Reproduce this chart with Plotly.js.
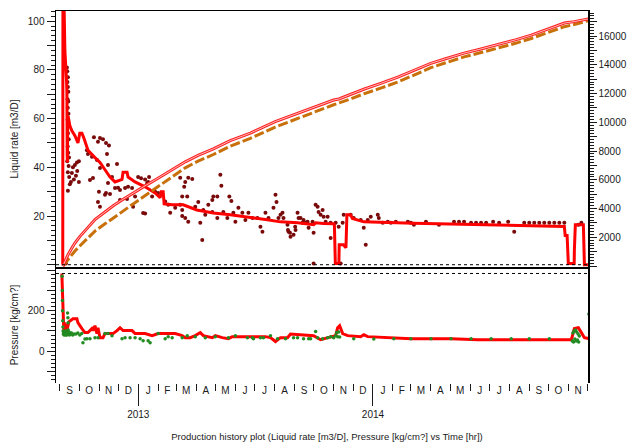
<!DOCTYPE html>
<html><head><meta charset="utf-8">
<script src="https://cdn.plot.ly/plotly-3.0.1.min.js"></script>
<style>html,body{margin:0;padding:0;background:#fff}#chart{width:630px;height:446px}</style>
</head><body><div id="chart"></div>
<script>
// ---- time origin (days are counted from this date) ----
const startDate = Date.UTC(2012, 8, 1);
const xRange = ['2012-08-26 00:00', '2014-12-01 12:00'];

// ---- tick labels ----
const monthLetters = ['S','O','N','D','J','F','M','A','M','J','J','A','S','O','N','D','J','F','M','A','M','J','J','A','S','O','N'];
const yearLabels = ['2013', '2014'];
const yearTicks = ['2013-01-01', '2014-01-01'];
const rateTicks = [0,10,20,30,40,50,60,70,80,90,100];
const rateTickText = ['','','20','','40','','60','','80','','100'];
const cumTicks = [0,1000,2000,3000,4000,5000,6000,7000,8000,9000,10000,11000,12000,13000,14000,15000,16000,17000];
const cumTickText = ['','','2000','','4000','','6000','','8000','','10000','','12000','','14000','','16000',''];
const presTicks = [-100,0,100,200,300,400];
const presTickText = ['','0','','200','',''];

// ---- simulated liquid rate (red line) ----
const rateSimDays = [4.5,4.8,6.2,7.8,10.5,11,11.4,11.8,12.2,12.9,15.6,18.7,23.4,28.1,31,34.3,37.4,43.7,54.6,62.4,70.2,78,85.8,96.7,98.3,104.5,106.1,117,132.6,148.2,156,157.6,160.7,162.2,174.7,191.9,213,238.7,265,291.7,320,343.2,370,394.7,397.8,410,425.9,427,428.5,434,434.5,441,445,446.5,452,455,472.7,550,650,750,784.7,786,789,790.9,800,800.3,801.8,814.3,815,815.9,823.7];
const rateSimValues = [0,112,112,88,75,70,45,42,60,61,57,55,53,50,54,54,52,47,44,42,39,36,34,35,38,38,36,34,32,29.5,27.5,30,30,25,24.6,24.6,22.5,21.2,20.5,19.7,18.6,17.6,17.2,16.4,17.2,16.9,16.8,16.4,0.5,0.5,8.2,8.2,7,20.5,20.5,19,17.6,17,16.5,16,15.7,12,12,0.5,0.5,6,16.4,16.4,5,0,0];

// ---- measured liquid rate (dark red dots) ----
const rateObsDays = [9.4,10.9,11.5,12.5,11.8,12.5,13.2,12,13,12.3,13.4,12,13.2,12.6,13.8,12.2,13,14.2,11.5,13.6,12.4,14.5,15.5,12.5,
 18.7,25,29.6,17.2,26.5,29.6,20.3,23.4,27,21.8,
 53,62.4,67.1,71.8,76.4,59.3,42.1,43.7,49.9,57.7,73.3,74.9,88.9,62.4,51.5,46.8,74.9,81.1,85.8,93.6,60.8,71.8,59.3,62.4,78,101.4,106.1,112.3,117,104.5,113.9,129.5,135.7,138.8,143.5,148.2,
 121.7,126.4,132.6,137.3,90.5,70.2,93.6,132.6,152.9,163.8,168.5,171.6,179.4,187.2,190.3,187.2,193.4,
 195,199.7,205.9,190.3,198.1,190.3,195,199.7,210.6,215.3,223.1,226.2,218.4,221.5,230.9,237.1,238.7,244.9,237.1,244.9,249.6,251.2,254.3,260.5,263.6,266.8,269.9,273,277.7,283.9,288.6,293.3,299.5,307.3,312,315.1,319.8,324.5,332.3,335.4,337,340.1,343.2,346.3,347.9,354.1,355.7,358.8,363.5,366.6,369.7,371.3,377.5,382.2,386.9,393.1,397.8,400.9,
 354.8,358,366,374.4,379.1,385.3,402.5,405.6,408.7,410.3,413.4,416.5,421.2,394.7,394.7,421.2,429,433.7,436.8,439.9,441.5,452.4,457.1,468,472.7,475.8,478.9,483.6,494.5,496.1,502.3,510.1,514.8,522.6,541.3,546,550.7,569.4,589.7,613.1,620.9,628.7,639.6,647.4,655.2,663,673.9,683.3,697.3,706.7,722.3,730.1,737.9,745.7,753.5,761.3,769.1,776.9,784.7,806.5,811.2];
const rateObsValues = [0.5,81,79.5,77,75,73,71,68,67,64.5,62,59.5,57,54,51.5,48.5,46,44,42.5,40.5,38,36,33,30.4,
 37.7,36.5,34,34,42,42.5,40,41,38.5,35,
 52.4,52,51.5,50,49,50.5,47,45.5,44.3,43,45.5,41,41.4,39.7,35.6,34.8,33.6,36,31.5,30.7,30,29.5,25.8,23.8,29,31.5,32,31.5,28,27,23.8,21.2,33.6,36,28,30,
 36,35.5,35,34,31.6,28.7,26.6,21,29.5,26,24.6,21.3,23.4,24.6,20,35.7,32,
 34,35.7,35.2,28,28,22.5,19.2,17.6,23.8,25.8,22.5,20.5,17.2,10.2,24.6,26.6,28,28,21.7,19.2,36.9,32.4,21.7,19.2,28,26.2,21.3,17.6,23.4,21.3,18.4,21.3,19.2,19.2,15.6,13.5,21.3,19.2,23.4,28.7,25.8,19.2,20.5,21.3,19.2,16.4,13.5,11.5,12.3,14.3,21.3,19.2,17.2,17.2,15.2,17.6,24.6,23.8,
 14.3,13.1,15.6,19.2,18.4,17.6,21.7,20.5,22.5,19.7,17.6,19.7,17.2,13.1,0.5,11,17.2,15.6,0.5,17.2,20.5,20.5,19.2,18.4,15.2,8.2,18.4,19.7,20.5,19.2,17.2,17.6,17.2,17.6,17.6,17.2,16.4,17.6,16.4,17.6,17.6,17.6,17.2,17.2,17.2,17.2,17.6,17.2,17.6,13.5,17.2,17.2,17.2,17.2,17.2,17.2,17.2,17.2,17.2,16.4,17.2];

// ---- cumulative production (right axis) ----
const cumSimDays = [4.7,8,12.5,18,23.4,31,43.7,55,70.2,83,96.7,110,121.7,135,148.2,162,174.7,195,215,238.7,265,296.4,335,374.4,400,425.9,434,452.4,472.7,500,525.7,550,577,600,628.7,655,681.7,710,733.2,760,784.7,800,815.9,823];
const cumSimValues = [0,350,770,1200,1600,2050,2720,3250,3760,4200,4600,4980,5290,5650,5990,6350,6680,7250,7700,8150,8720,9250,10050,10700,11150,11550,11620,11950,12300,12720,13140,13600,14100,14420,14810,15100,15390,15750,16060,16480,16900,17000,17110,17200];
const cumObsDays = [4.7,8,12.5,18,23.4,31,43.7,55,70.2,83,96.7,110,121.7,135,148.2,162,174.7,195,215,238.7,265,296.4,335,374.4,400,425.9,452.4,472.7,500,525.7,550,577,600,628.7,655,681.7,710,733.2,760,784.7,800,815.9,823];
const cumObsValues = [0,200,470,750,1050,1400,1970,2450,2940,3370,3770,4200,4570,5000,5410,5830,6210,6830,7300,7760,8340,8880,9670,10340,10800,11220,11630,11980,12390,12800,13270,13800,14140,14550,14850,15150,15510,15830,16250,16650,16800,16960,17080];

// ---- pressure ----
const initialPressure = 384;
const presSimDays = [3.1,4,4.7,5.5,6.2,7.8,10.9,14,15.6,20.3,26.5,28.1,34.3,39,43.7,49.9,51.5,54.6,57.7,59.3,62.4,67.1,70.2,74.9,82.7,88.9,93.6,98.3,112.3,117,127.9,132.6,143.5,152.9,168.5,179.4,190.3,195,202.8,210.6,218.4,223.1,237.1,241.8,252.7,262.1,268.3,283.9,304.2,319.8,327.6,335.4,343.2,354.1,358.8,369.7,394.7,405.6,421.2,429,432.1,435.2,439.9,447.7,468,472.7,478.9,503.9,546,608.4,650.5,750,795.6,800.3,806.5,811.2,815.9,823.7];
const presSimValues = [384,300,180,95,92,141,102,145,150,160,160,141,112,92,92,112,102,126,87,116,67,67,87,87,87,102,116,102,102,87,87,87,77,87,87,87,77,67,67,77,92,77,67,77,67,62,72,72,72,72,67,48,67,67,85,82,77,57,72,77,116,126,87,77,72,82,72,67,62,62,57,57,57,112,116,92,67,62];
const presObsDays = [3.5,3.8,4,4.2,4.5,4.8,5,5.5,6,6.5,7,7.5,8,8.5,9,9.5,10,10.5,11,11.5,12,12.5,12.8,13,13.5,14,15,16,17,18,20,22,25,28,31,34,
 35.9,39,42.1,46.8,54.6,59.3,70.2,74.9,81.1,96.7,101.4,109.2,117,124.8,129.5,137.3,140.4,152.9,163.8,168.5,174.7,190.3,198.1,210.6,226.2,241.8,262.1,273,291.7,299.5,301.1,312,316.7,327.6,338.5,351,363.5,369.7,379.1,386.9,390,397.8,400.9,408.7,416.5,421.2,425.9,429,430.6,432.1,433.7,435.2,
 457.1,488.3,519.5,546,577.2,608.4,639.6,670.8,702,730.1,761.3,
 797,798,799,800,801,802,803,804,805,806,807,808,823];
const presObsValues = [370,300,250,200,150,120,100,85,90,80,95,85,100,90,80,95,85,100,80,90,189,165,140,105,85,95,80,90,85,90,80,85,85,90,80,88,
 42,60,62,62,67,67,87,87,77,62,67,67,67,62,52,52,42,87,62,72,67,67,77,72,67,72,67,77,67,67,62,67,67,77,62,62,67,67,62,62,62,97,67,62,67,72,67,77,92,72,95,70,
 62,60,62,62,62,62,62,62,62,62,62,
 50,90,45,100,60,105,50,95,55,85,45,75,184];

// ---- helpers: day offset -> date string ----
function dayToDate(d) {
  return new Date(startDate + d * 86400000).toISOString().slice(0, 19).replace('T', ' ');
}
const monthStarts = [], monthMids = [];
for (let m = 0; m <= monthLetters.length; m++) {
  const a = Date.UTC(2012, 8 + m, 1);
  monthStarts.push(new Date(a).toISOString().slice(0, 10));
  if (m < monthLetters.length) {
    const b = Date.UTC(2012, 9 + m, 1);
    monthMids.push(new Date((a + b) / 2).toISOString().slice(0, 19).replace('T', ' '));
  }
}

const FONT = 'Liberation Sans, Arial, sans-serif';
const INK = '#1a1a1a';

const traces = [
  {x: cumObsDays.map(dayToDate), y: cumObsValues, xaxis: 'x2', yaxis: 'y3', mode: 'lines',
   line: {color: '#c8700a', width: 3, dash: '10px,3px'}, hoverinfo: 'skip'},
  {x: cumSimDays.map(dayToDate), y: cumSimValues, xaxis: 'x2', yaxis: 'y3', mode: 'lines',
   line: {color: '#ff2020', width: 3}, hoverinfo: 'skip'},
  {x: cumSimDays.map(dayToDate), y: cumSimValues, xaxis: 'x2', yaxis: 'y3', mode: 'lines',
   line: {color: '#ffb8b8', width: 1}, hoverinfo: 'skip'},
  {x: rateObsDays.map(dayToDate), y: rateObsValues, xaxis: 'x2', yaxis: 'y', mode: 'markers',
   marker: {color: '#7a0a0a', size: 4}, hoverinfo: 'skip'},
  {x: rateSimDays.map(dayToDate), y: rateSimValues, xaxis: 'x2', yaxis: 'y', mode: 'lines',
   line: {color: '#ff0000', width: 3}, hoverinfo: 'skip'},
  {x: presSimDays.map(dayToDate), y: presSimValues, xaxis: 'x', yaxis: 'y2', mode: 'lines',
   line: {color: '#ff0000', width: 3}, hoverinfo: 'skip'},
  {x: presObsDays.map(dayToDate), y: presObsValues, xaxis: 'x', yaxis: 'y2', mode: 'markers',
   marker: {color: '#228b22', size: 3.5}, hoverinfo: 'skip'},
  // empty trace so the year-tick axis is laid out
  {x: [], y: [], xaxis: 'x3', yaxis: 'y2', mode: 'markers', hoverinfo: 'skip'}
];

const split = 116 / 372;
const layout = {
  width: 630, height: 446,
  margin: {l: 56, r: 42, t: 11, b: 63},
  paper_bgcolor: '#fff', plot_bgcolor: '#fff',
  showlegend: false,
  font: {family: FONT, size: 10, color: INK},
  title: {text: 'Production history plot (Liquid rate [m3/D], Pressure [kg/cm?] vs Time [hr])',
          x: 0.519, xanchor: 'center', y: 0.02, yanchor: 'middle', font: {size: 9.5, color: INK}},
  xaxis: {type: 'date', range: xRange, anchor: 'y2', domain: [0, 1],
          tickmode: 'array', tickvals: monthMids, ticktext: monthLetters, ticks: '',
          tickfont: {size: 10, color: INK}, showline: false, showgrid: false, zeroline: false,
          minor: {tickmode: 'array', tickvals: monthStarts, ticks: 'outside', ticklen: 7, tickwidth: 1, tickcolor: INK, showgrid: false}},
  xaxis2: {type: 'date', range: xRange, anchor: 'y', domain: [0, 1], matches: 'x',
           showticklabels: false, ticks: '', showline: true, mirror: true, linecolor: '#000', linewidth: 1.5,
           showgrid: false, zeroline: false},
  xaxis3: {type: 'date', range: xRange, overlaying: 'x', anchor: 'y2', side: 'bottom',
           tickmode: 'array', tickvals: yearTicks, ticktext: yearLabels, ticks: 'outside', ticklen: 22,
           tickwidth: 1, tickcolor: INK, tickfont: {size: 10, color: INK},
           showline: false, showgrid: false, zeroline: false},
  yaxis: {domain: [split, 1], anchor: 'x2', range: [-0.94, 104.2],
          tickmode: 'array', tickvals: rateTicks, ticktext: rateTickText, ticks: 'outside', ticklen: 8,
          tickcolor: INK, minor: {dtick: 2, tick0: 0, ticks: 'outside', ticklen: 4, tickcolor: INK, showgrid: false},
          showline: true, linecolor: '#000', linewidth: 1.5, showgrid: false, zeroline: false,
          title: {text: 'Liquid rate [m3/D]', standoff: 7, font: {size: 10, color: INK}}},
  yaxis3: {overlaying: 'y', side: 'right', anchor: 'x2', range: [-63, 17740],
           tickmode: 'array', tickvals: cumTicks, ticktext: cumTickText, ticks: 'outside', ticklen: 7,
           tickcolor: INK, minor: {dtick: 200, tick0: 0, ticks: 'outside', ticklen: 4, tickcolor: INK, showgrid: false},
           showline: true, linecolor: '#000', linewidth: 1.5, showgrid: false, zeroline: false},
  yaxis2: {domain: [0, split], anchor: 'x', range: [-157, 416],
           tickmode: 'array', tickvals: presTicks, ticktext: presTickText, ticks: 'outside', ticklen: 8,
           tickcolor: INK, minor: {dtick: 20, tick0: 0, ticks: 'outside', ticklen: 4, tickcolor: INK, showgrid: false},
           showline: true, mirror: true, linecolor: '#000', linewidth: 1.5, showgrid: false, zeroline: false,
           title: {text: 'Pressure [kg/cm?]', standoff: 7, font: {size: 10, color: INK}}},
  shapes: [
    {type: 'line', xref: 'x domain', yref: 'y', x0: 0, x1: 1, y0: 0, y1: 0,
     line: {color: '#000', width: 1, dash: 'dot'}},
    {type: 'line', xref: 'x domain', yref: 'y2', x0: 0, x1: 1, y0: initialPressure, y1: initialPressure,
     line: {color: '#000', width: 1, dash: 'dot'}}
  ]
};

Plotly.newPlot('chart', traces, layout, {staticPlot: true, displayModeBar: false});
</script>
</body></html>
